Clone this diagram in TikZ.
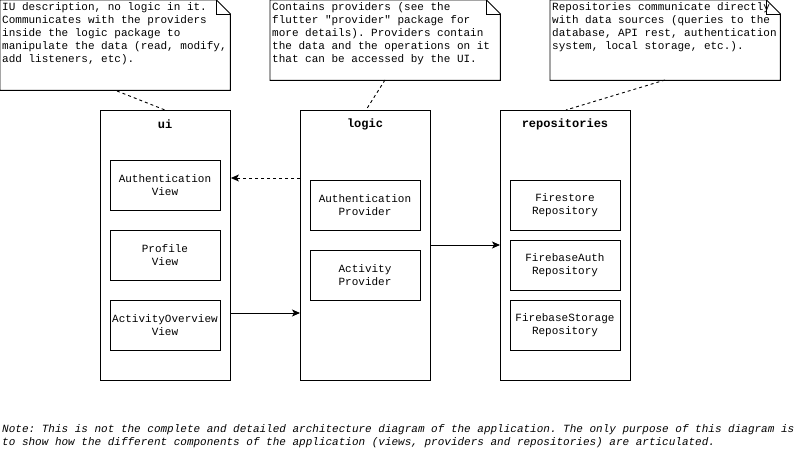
\documentclass[tikz,border=0pt]{standalone}
\usepackage{fontspec}
\setmonofont{Liberation Mono}
\usetikzlibrary{arrows.meta}
\begin{document}
\begin{tikzpicture}[x=1pt,y=-1pt,
  every node/.style={font=\ttfamily\fontsize{11}{13}\selectfont},
  notetext/.style={anchor=north west,align=left,inner sep=0pt},
  container/.style={draw,line width=0.9pt,anchor=north west,minimum width=130pt,minimum height=270pt,inner sep=0pt},
  title/.style={font=\ttfamily\bfseries\fontsize{12}{14}\selectfont},
  item/.style={draw,line width=0.9pt,minimum width=110pt,minimum height=50pt,align=center,inner sep=0pt},
  notebox/.style={anchor=north west,minimum width=230pt,inner sep=0pt},
  notelink/.style={dash pattern=on 3pt off 3pt,line width=0.9pt},
  arr/.style={line width=0.9pt,-{Stealth[length=8pt,width=7pt,inset=2pt]}},
  darr/.style={arr,dash pattern=on 3pt off 3pt}]
\useasboundingbox (0,0) rectangle (811,461);
% notes
\node[notebox,minimum height=90pt] (n1) at (0,0) {};
\node[notebox,minimum height=80pt] (n2) at (270,0) {};
\node[notebox,minimum height=80pt] (n3) at (550,0) {};
\foreach \n in {n1,n2,n3}{
  \draw[line width=0.9pt] (\n.north west) -- ([xshift=-14pt]\n.north east) -- ([yshift=-14pt]\n.north east) -- (\n.south east) -- (\n.south west) -- cycle;
  \draw[line width=0.9pt] ([xshift=-14pt]\n.north east) -- ([xshift=-14pt,yshift=-14pt]\n.north east) -- ([yshift=-14pt]\n.north east);
}
\node[notetext] (t1) at (2,2.5) {IU description, no logic in it.\\Communicates with the providers\\inside the logic package to\\manipulate the data (read, modify,\\add listeners, etc).};
\node[notetext] (t2) at (272,2.5) {Contains providers (see the\\flutter "provider" package for\\more details). Providers contain\\the data and the operations on it\\that can be accessed by the UI.};
\node[notetext] (t3) at (552,2.5) {Repositories communicate directly\\with data sources (queries to the\\database, API rest, authentication\\system, local storage, etc.).};
% containers
\node[container] (ui) at (100,110) {};
\node[container] (logic) at (300,110) {};
\node[container] (repo) at (500,110) {};
\node[title] (uit) at (165,124) {ui};
\node[title] (logict) at (365,124) {logic};
\node[title] (repot) at (565,124) {repositories};
% items
\node[item] (av) at (165,185) {Authentication\\View};
\node[item] (pv) at (165,255) {Profile\\View};
\node[item] (aov) at (165,325) {ActivityOverview\\View};
\node[item] (ap) at (365,205) {Authentication\\Provider};
\node[item] (acp) at (365,275) {Activity\\Provider};
\node[item] (fr) at (565,205) {Firestore\\Repository};
\node[item] (far) at (565,265) {FirebaseAuth\\Repository};
\node[item] (fsr) at (565,325) {FirebaseStorage\\Repository};
% note links
\coordinate (c1) at (117,91);
\coordinate (c1b) at (165,110);
\coordinate (c2) at (385,80);
\coordinate (c2b) at (366,110);
\coordinate (c3) at (665,80);
\coordinate (c3b) at (566,110);
\draw[notelink] (c1) -- (c1b);
\draw[notelink] (c2) -- (c2b);
\draw[notelink] (c3) -- (c3b);
% arrows
\draw[darr] (logic.west |- 0,178) -- (ui.east |- 0,178);
\draw[arr] (ui.east |- 0,313) -- (logic.west |- 0,313);
\draw[arr] (logic.east |- 0,245) -- (repo.west |- 0,245);
% bottom note
\node[notetext,font=\ttfamily\itshape\fontsize{11}{13}\selectfont] (note) at (2,424) {Note: This is not the complete and detailed architecture diagram of the application. The only purpose of this diagram is\\to show how the different components of the application (views, providers and repositories) are articulated.};
\end{tikzpicture}
\end{document}
